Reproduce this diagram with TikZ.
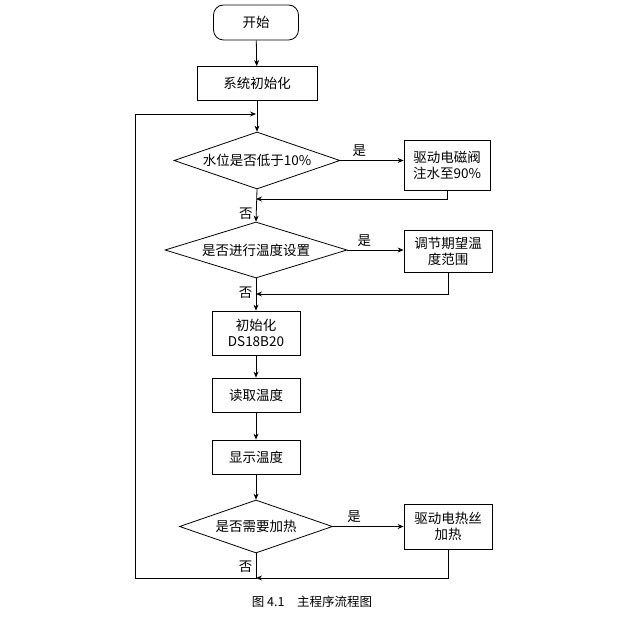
\documentclass[tikz,border=0pt]{standalone}
\usepackage{fontspec}
\newfontfamily\cjk{Noto Sans CJK SC}
\usetikzlibrary{shapes.geometric,arrows.meta}
\begin{document}
\begin{tikzpicture}[x=1pt,y=-1pt,font=\cjk\fontsize{13.5}{16}\selectfont,
  box/.style={draw,thick,minimum width=88pt,minimum height=34pt,align=center,inner sep=1pt},
  dia/.style={draw,thick,diamond,aspect=3,inner sep=0pt,align=center},
  ar/.style={thick,-{Stealth[length=6pt,width=5pt]}},
  ln/.style={thick}]
\useasboundingbox (0,0) rectangle (632,621);
\node[draw,thick,rounded corners=10pt,minimum width=85pt,minimum height=35pt] (start) at (256,22.5) {开始};
\node[box,minimum width=120pt] (init) at (257,83.5) {系统初始化};
\node[dia,minimum width=166pt,minimum height=57pt] (d1) at (257,160.5) {水位是否低于10\%};
\node[box,minimum width=86pt,minimum height=50pt] (b1) at (447,165) {驱动电磁阀\\注水至90\%};
\node[dia,minimum width=182pt,minimum height=56pt] (d2) at (256,250) {是否进行温度设置};
\node[box,minimum width=88pt,minimum height=42pt] (b2) at (448,251) {调节期望温\\度范围};
\node[box,minimum height=44pt] (ds) at (256,333) {初始化\\DS18B20};
\node[box] (rd) at (256,395) {读取温度};
\node[box] (sh) at (256,457) {显示温度};
\node[dia,minimum width=153pt,minimum height=53pt] (d3) at (256,526.5) {是否需要加热};
\node[box,minimum height=45pt] (b3) at (448,526.5) {驱动电热丝\\加热};
\coordinate (j0) at (256,114);
\coordinate (j1) at (256,199);
\coordinate (j2) at (256,294);
\coordinate (j3) at (256,578);
\coordinate (lb) at (135,578);
\coordinate (lt) at (135,114);
\draw[ar] (start) -- (init);
\draw[ar] (init) -- (d1);
\draw[ar] (d1.east) -- node[above,pos=0.3]{是} (b1.west|-d1.east);
\draw[ar] (b1.south) |- (j1);
\draw[ar] (d1.south) -- node[left,pos=0.75]{否} (d2.north);
\draw[ar] (d2.east) -- node[above,pos=0.3]{是} (b2.west|-d2.east);
\draw[ar] (b2.south) |- (j2);
\draw[ar] (d2.south) -- node[left,pos=0.45]{否} (ds.north);
\draw[ar] (ds) -- (rd);
\draw[ar] (rd) -- (sh);
\draw[ar] (sh) -- (d3);
\draw[ar] (d3.east) -- node[above,pos=0.3]{是} (b3.west|-d3.east);
\draw[ar] (b3.south) |- (j3);
\draw[ln] (d3.south) -- node[left,pos=0.55]{否} (j3) -- (lb);
\draw[ar] (lb) -- (lt) -- (j0);
\node[font=\cjk\fontsize{12.5}{14}\selectfont] (cap) at (312,602) {图 4.1\quad 主程序流程图};
\end{tikzpicture}
\end{document}
